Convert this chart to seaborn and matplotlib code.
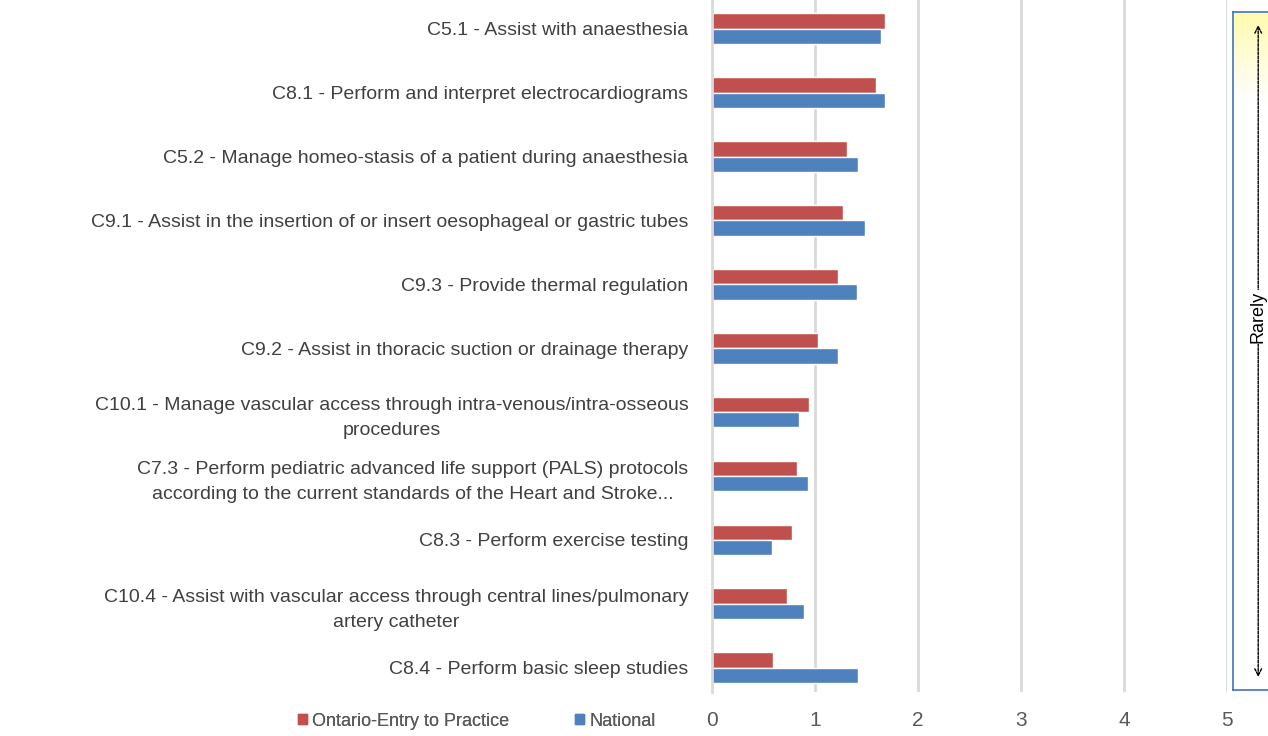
import matplotlib

matplotlib.use("Agg")

import matplotlib.pyplot as plt
import numpy as np
import pandas as pd
import seaborn as sns

categories = [
    "C5.1 - Assist with anaesthesia",
    "C8.1 - Perform and interpret electrocardiograms",
    "C5.2 - Manage homeo-stasis of a patient during anaesthesia",
    "C9.1 - Assist in the insertion of or insert oesophageal or gastric tubes",
    "C9.3 - Provide thermal regulation",
    "C9.2 - Assist in thoracic suction or drainage therapy",
    "C10.1 - Manage vascular access through intra-venous/intra-osseous\nprocedures",
    "C7.3 - Perform pediatric advanced life support (PALS) protocols\naccording to the current standards of the Heart and Stroke...",
    "C8.3 - Perform exercise testing",
    "C10.4 - Assist with vascular access through central lines/pulmonary\nartery catheter",
    "C8.4 - Perform basic sleep studies",
]
ontario = [1.68, 1.59, 1.31, 1.27, 1.22, 1.03, 0.94, 0.83, 0.78, 0.73, 0.59]
national = [1.64, 1.68, 1.42, 1.49, 1.41, 1.22, 0.84, 0.93, 0.58, 0.89, 1.42]
series = ["Ontario-Entry to Practice", "National"]
xticks = [0, 1, 2, 3, 4, 5]

df = pd.DataFrame({
    "task": categories * 2,
    "score": ontario + national,
    "group": [series[0]] * len(categories) + [series[1]] * len(categories),
})

sns.set_theme(style="white")
plt.rcParams["font.family"] = ["Liberation Sans", "DejaVu Sans"]
text_col = "#404040"
colors = ["#C0504D", "#4F81BD"]

W, H = 1268, 736
fig = plt.figure(figsize=(W / 100, H / 100), dpi=100)
ax = fig.add_axes([712 / W, 1 - 692 / H, (1227 - 712) / W, 692 / H])

sns.barplot(
    data=df, y="task", x="score", hue="group", hue_order=series,
    palette=colors, orient="h", width=0.48, ax=ax,
    saturation=1, legend=False,
)

ax.set_xlim(0, 5)
ax.set_ylim(10.38, -0.45)
ax.set_xticks(xticks)
ax.set_xticklabels([str(t) for t in xticks], fontsize=15, color="#595959")
ax.tick_params(axis="x", length=0, pad=14)
ax.tick_params(axis="y", length=0, pad=17)
for lab in ax.get_yticklabels():
    lab.set_fontsize(14)
    lab.set_color(text_col)
    lab.set_multialignment("center")
    lab.set_linespacing(1.6)
ax.set_xlabel("")
ax.set_ylabel("")
ax.set_axisbelow(True)
for x in xticks[1:]:
    ax.axvline(x, color="#D9D9D9", lw=2, zorder=0)
for s in ["top", "right", "bottom"]:
    ax.spines[s].set_visible(False)
ax.spines["left"].set_color("#D9D9D9")
ax.spines["left"].set_linewidth(2)

# legend entries at the bottom left, one per series
legend_x = [298, 575]
for name, col, lx in zip(series, colors, legend_x):
    leg = fig.legend(
        [plt.Rectangle((0, 0), 1, 1, color=col)], [name],
        loc="center left", bbox_to_anchor=(lx / W, 1 - 721 / H),
        frameon=False, fontsize=13, handlelength=0.5, handleheight=0.5,
        handletextpad=0.3, labelcolor="#595959", borderpad=0, borderaxespad=0,
    )
    fig.add_artist(leg)

# frequency box on the right
bx = fig.add_axes([1233 / W, 1 - 690 / H, (1268 - 1233) / W, (690 - 12) / H])
grad = np.linspace(0, 1, 256).reshape(-1, 1)
cmap = matplotlib.colors.LinearSegmentedColormap.from_list(
    "yw", [(0, "#FFFBB0"), (0.13, "#FFFFFF"), (1, "#FFFFFF")]
)
bx.imshow(grad, aspect="auto", cmap=cmap, extent=(0, 1, 0, 1), origin="upper")
bx.set_xlim(0, 1)
bx.set_ylim(0, 1)
bx.set_xticks([])
bx.set_yticks([])
for s in bx.spines.values():
    s.set_color("#4472C4")
    s.set_linewidth(1.2)
bx.spines["right"].set_visible(False)
bx.annotate(
    "", xy=(0.72, 0.985), xytext=(0.72, 0.015),
    arrowprops=dict(arrowstyle="<->", ls=(0, (2, 1)), lw=1, color="black"),
)
bx.text(
    0.72, 0.55, "Rarely", rotation=90, ha="center", va="center", fontsize=13,
    color="black", bbox=dict(facecolor="white", edgecolor="none", pad=0.5),
)

fig.savefig("out.png", dpi=100)
